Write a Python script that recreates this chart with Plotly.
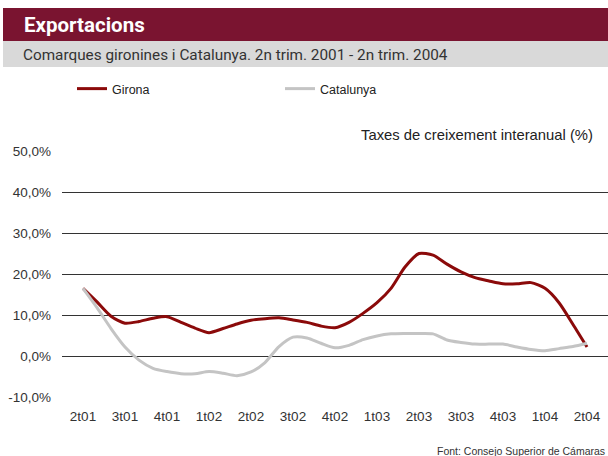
import plotly.graph_objects as go

# monthly year-on-year growth, 2n trim. 2001 - 2n trim. 2004 (%)
months = list(range(37))
girona = [16.5, 13.2, 9.7, 8.0, 8.4, 9.2, 9.6, 8.2, 6.8, 5.7, 6.7, 7.8, 8.7,
          9.1, 9.3, 8.8, 8.2, 7.3, 6.9, 8.2, 10.4, 13.0, 16.5, 21.7, 25.0, 24.6,
          22.4, 20.5, 19.1, 18.3, 17.6, 17.6, 17.9, 16.5, 13.0, 7.7, 2.2]
catalunya = [16.5, 11.8, 6.7, 2.2, -1.0, -3.0, -3.8, -4.3, -4.3, -3.8, -4.2, -4.8, -3.9,
             -1.6, 2.3, 4.6, 4.4, 3.1, 2.0, 2.6, 4.0, 4.9, 5.4, 5.5, 5.5, 5.4,
             3.9, 3.3, 2.9, 2.9, 2.9, 2.2, 1.6, 1.3, 1.8, 2.3, 3.1]

quarter_labels = ["2t01", "3t01", "4t01", "1t02", "2t02", "3t02", "4t02",
                  "1t03", "2t03", "3t03", "4t03", "1t04", "2t04"]
label_pos = [3 * i for i in range(len(quarter_labels))]
boundaries = [3 * i - 1.5 for i in range(len(quarter_labels) + 1)]

y_ticks = [-10, 0, 10, 20, 30, 40, 50]
y_text = ["-10,0%", "0,0%", "10,0%", "20,0%", "30,0%", "40,0%", "50,0%"]

W, H = 608, 456
def px_x(v):
    return v / W
def px_y(v):
    return 1 - v / H

xr = [-1.5, 37.5]
ydom = [px_y(397), px_y(151)]
zero_pos = px_y(356)

fig = go.Figure()
fig.add_trace(go.Scatter(x=months, y=girona, name="Girona", mode="lines",
                         line=dict(color="#8b0a0a", width=3, shape="spline", smoothing=0.7)))
fig.add_trace(go.Scatter(x=months, y=catalunya, name="Catalunya", mode="lines",
                         line=dict(color="#c4c4c4", width=3, shape="spline", smoothing=0.7)))

axfont = dict(family="Liberation Sans, Arial", size=13.5, color="#333333")

fig.update_layout(
    width=W, height=H,
    margin=dict(l=0, r=0, t=0, b=0, autoexpand=False),
    plot_bgcolor="white", paper_bgcolor="white",
    xaxis=dict(domain=[px_x(62), 1], range=xr, anchor="y", showgrid=False, zeroline=False,
               tickvals=label_pos, ticktext=quarter_labels, ticks="", showline=False,
               tickfont=axfont, ticklabelstandoff=9, automargin=False),
    xaxis2=dict(overlaying="x", anchor="free", position=zero_pos, range=xr, showgrid=False,
                zeroline=False, tickvals=boundaries, ticks="outside", ticklen=4,
                tickcolor="#404040", showticklabels=False, showline=True,
                linecolor="#808080", linewidth=1.5, automargin=False),
    xaxis3=dict(overlaying="x", anchor="free", position=zero_pos, range=xr, showgrid=False,
                zeroline=False, tickvals=boundaries, ticks="inside", ticklen=4,
                tickcolor="#404040", showticklabels=False, showline=False, automargin=False),
    yaxis=dict(domain=ydom, range=[-10, 50], tickvals=y_ticks, ticktext=y_text,
               showgrid=True, gridcolor="#333333", gridwidth=1, zeroline=False,
               ticks="", tickfont=axfont, ticklabelstandoff=10, automargin=False),
    showlegend=True,
    legend=dict(orientation="h", x=px_x(72), y=px_y(89), xanchor="left", yanchor="middle",
                entrywidth=163, entrywidthmode="pixels",
                font=dict(family="Liberation Sans, Arial", size=12.5, color="#222222"),
                bgcolor="rgba(0,0,0,0)"),
    shapes=[
        dict(type="rect", xref="paper", yref="paper", x0=px_x(3), x1=1,
             y0=px_y(41), y1=px_y(8), fillcolor="#7a1430", line_width=0, layer="below"),
        dict(type="rect", xref="paper", yref="paper", x0=px_x(3), x1=1,
             y0=px_y(67), y1=px_y(41), fillcolor="#d9d9d9", line_width=0, layer="below"),
    ],
    annotations=[
        dict(text="<b>Exportacions</b>", xref="paper", yref="paper", x=px_x(22), y=px_y(25),
             xanchor="left", yanchor="middle", showarrow=False,
             font=dict(family="Roboto", size=20.5, color="white")),
        dict(text="Comarques gironines i Catalunya. 2n trim. 2001 - 2n trim. 2004",
             xref="paper", yref="paper", x=px_x(21), y=px_y(55), xanchor="left",
             yanchor="middle", showarrow=False,
             font=dict(family="Roboto", size=15.3, color="#333333")),
        dict(text="Taxes de creixement interanual (%)", xref="paper", yref="paper",
             x=px_x(595), y=px_y(135), xanchor="right", yanchor="middle", showarrow=False,
             font=dict(family="Liberation Sans, Arial", size=14.8, color="#222222")),
        dict(text="Font: Consejo Superior de Cámaras", xref="paper", yref="paper",
             x=px_x(435), y=px_y(451), xanchor="left", yanchor="middle", showarrow=False,
             font=dict(family="Liberation Sans, Arial", size=10.5, color="#333333")),
    ],
)

fig.write_html("out.html", config={"displayModeBar": False},
               post_script="document.body.style.margin='0';")
